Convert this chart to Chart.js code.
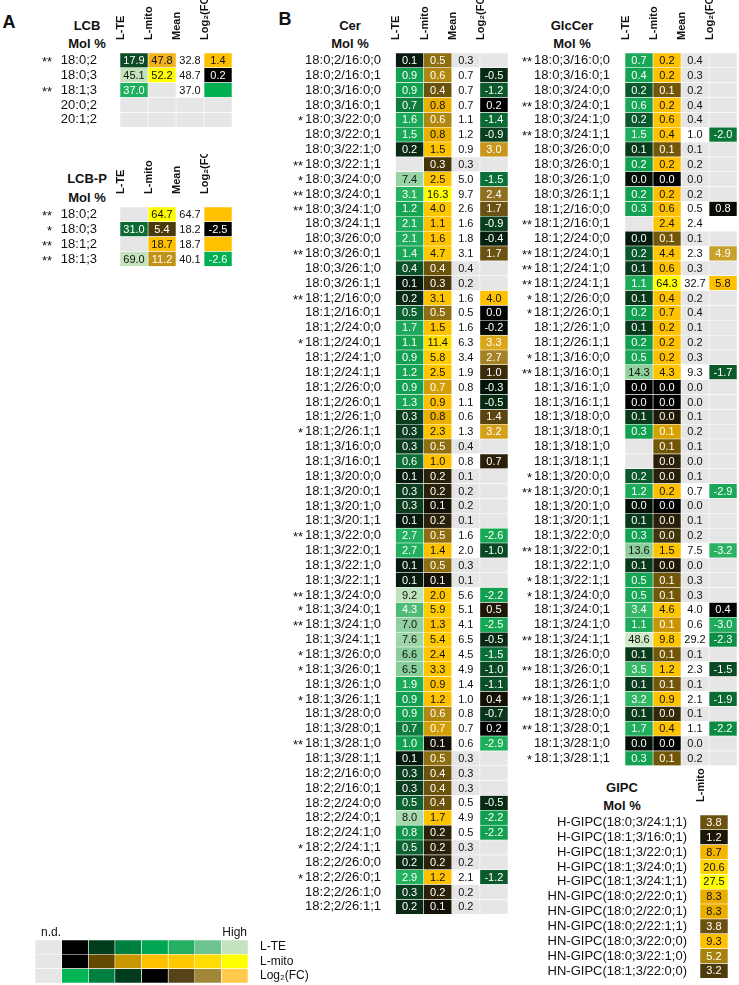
<!DOCTYPE html>
<html>
<head>
<meta charset="utf-8">
<script src="https://cdn.jsdelivr.net/npm/chart.js@4.4.1/dist/chart.umd.min.js"></script>
<style>
  body { margin: 0; background: #fff; width: 739px; height: 985px; position: relative; overflow: hidden;
         font-family: "Liberation Sans", Arial, sans-serif; color: #111; }
  canvas { position: absolute; }
  .t { position: absolute; transform: translate(-50%, -50%); font-weight: bold; font-size: 13px; line-height: 1; white-space: nowrap; }
  .p { font-size: 18px; }
</style>
</head>
<body>
<div class="t p" style="left:9px;top:22px">A</div>
<div class="t p" style="left:285px;top:19px">B</div>
<div class="t" style="left:87px;top:25px">LCB</div>
<div class="t" style="left:87px;top:43px">Mol %</div>
<div class="t" style="left:87px;top:178px">LCB-P</div>
<div class="t" style="left:87px;top:197px">Mol %</div>
<div class="t" style="left:350px;top:25px">Cer</div>
<div class="t" style="left:350px;top:43px">Mol %</div>
<div class="t" style="left:572px;top:25px">GlcCer</div>
<div class="t" style="left:572px;top:43px">Mol %</div>
<div class="t" style="left:622px;top:787px">GIPC</div>
<div class="t" style="left:622px;top:805px">Mol %</div>

<script>
// ---------- data ----------
const COLS = ['L-TE', 'L-mito', 'Mean', 'Log₂(FC)'];

// LCB
const lcbRows  = ['18:0;2', '18:0;3', '18:1;3', '20:0;2', '20:1;2'];
const lcbStars = ['**', '', '**', '', ''];
const lcbTE    = [17.9, 45.1, 37.0, null, null];
const lcbMito  = [47.8, 52.2, null, null, null];
const lcbMean  = [32.8, 48.7, 37.0, null, null];
const lcbFC    = [1.4, 0.2, -Infinity, null, null];

// LCB-P
const lcbpRows  = ['18:0;2', '18:0;3', '18:1;2', '18:1;3'];
const lcbpStars = ['**', '*', '**', '**'];
const lcbpTE    = [null, 31.0, null, 69.0];
const lcbpMito  = [64.7, 5.4, 18.7, 11.2];
const lcbpMean  = [64.7, 18.2, 18.7, 40.1];
const lcbpFC    = [Infinity, -2.5, Infinity, -2.6];

// Cer
const cerRows = [
  '18:0;2/16:0;0', '18:0;2/16:0;1', '18:0;3/16:0;0', '18:0;3/16:0;1', '18:0;3/22:0;0', '18:0;3/22:0;1',
  '18:0;3/22:1;0', '18:0;3/22:1;1', '18:0;3/24:0;0', '18:0;3/24:0;1', '18:0;3/24:1;0', '18:0;3/24:1;1',
  '18:0;3/26:0;0', '18:0;3/26:0;1', '18:0;3/26:1;0', '18:0;3/26:1;1', '18:1;2/16:0;0', '18:1;2/16:0;1',
  '18:1;2/24:0;0', '18:1;2/24:0;1', '18:1;2/24:1;0', '18:1;2/24:1;1', '18:1;2/26:0;0', '18:1;2/26:0;1',
  '18:1;2/26:1;0', '18:1;2/26:1;1', '18:1;3/16:0;0', '18:1;3/16:0;1', '18:1;3/20:0;0', '18:1;3/20:0;1',
  '18:1;3/20:1;0', '18:1;3/20:1;1', '18:1;3/22:0;0', '18:1;3/22:0;1', '18:1;3/22:1;0', '18:1;3/22:1;1',
  '18:1;3/24:0;0', '18:1;3/24:0;1', '18:1;3/24:1;0', '18:1;3/24:1;1', '18:1;3/26:0;0', '18:1;3/26:0;1',
  '18:1;3/26:1;0', '18:1;3/26:1;1', '18:1;3/28:0;0', '18:1;3/28:0;1', '18:1;3/28:1;0', '18:1;3/28:1;1',
  '18:2;2/16:0;0', '18:2;2/16:0;1', '18:2;2/24:0;0', '18:2;2/24:0;1', '18:2;2/24:1;0', '18:2;2/24:1;1',
  '18:2;2/26:0;0', '18:2;2/26:0;1', '18:2;2/26:1;0', '18:2;2/26:1;1'];
const cerStars = [
  '', '', '', '', '*', '', '', '**', '*', '**', '**', '', '', '**', '', '', '**', '', '', '*', '', '', '', '',
  '', '*', '', '', '', '', '', '', '**', '', '', '', '**', '*', '**', '', '*', '*', '', '*', '', '', '**', '',
  '', '', '', '', '', '*', '', '*', '', ''];
const cerTE = [
  0.1, 0.9, 0.9, 0.7, 1.6, 1.5, 0.2, null, 7.4, 3.1, 1.2, 2.1, 2.1, 1.4, 0.4, 0.1, 0.2, 0.5, 1.7, 1.1, 0.9, 1.2,
  0.9, 1.3, 0.3, 0.3, 0.3, 0.6, 0.1, 0.3, 0.3, 0.1, 2.7, 2.7, 0.1, 0.1, 9.2, 4.3, 7.0, 7.6, 6.6, 6.5, 1.9, 0.9,
  0.9, 0.7, 1.0, 0.1, 0.3, 0.3, 0.5, 8.0, 0.8, 0.5, 0.2, 2.9, 0.3, 0.2];
const cerMito = [
  0.5, 0.6, 0.4, 0.8, 0.6, 0.8, 1.5, 0.3, 2.5, 16.3, 4.0, 1.1, 1.6, 4.7, 0.4, 0.3, 3.1, 0.5, 1.5, 11.4, 5.8, 2.5,
  0.7, 0.9, 0.8, 2.3, 0.5, 1.0, 0.2, 0.2, 0.1, 0.2, 0.5, 1.4, 0.5, 0.1, 2.0, 5.9, 1.3, 5.4, 2.4, 3.3, 0.9, 1.2,
  0.6, 0.7, 0.1, 0.5, 0.4, 0.4, 0.4, 1.7, 0.2, 0.2, 0.2, 1.2, 0.2, 0.1];
const cerMean = [
  0.3, 0.7, 0.7, 0.7, 1.1, 1.2, 0.9, 0.3, 5.0, 9.7, 2.6, 1.6, 1.8, 3.1, 0.4, 0.2, 1.6, 0.5, 1.6, 6.3, 3.4, 1.9,
  0.8, 1.1, 0.6, 1.3, 0.4, 0.8, 0.1, 0.2, 0.2, 0.1, 1.6, 2.0, 0.3, 0.1, 5.6, 5.1, 4.1, 6.5, 4.5, 4.9, 1.4, 1.0,
  0.8, 0.7, 0.6, 0.3, 0.3, 0.3, 0.5, 4.9, 0.5, 0.3, 0.2, 2.1, 0.2, 0.2];
const cerFC = [
  null, -0.5, -1.2, 0.2, -1.4, -0.9, 3.0, null, -1.5, 2.4, 1.7, -0.9, -0.4, 1.7, null, null, 4.0, 0.0, -0.2, 3.3,
  2.7, 1.0, -0.3, -0.5, 1.4, 3.2, null, 0.7, null, null, null, null, -2.6, -1.0, null, null, -2.2, 0.5, -2.5, -0.5,
  -1.5, -1.0, -1.1, 0.4, -0.7, 0.2, -2.9, null, null, null, -0.5, -2.2, -2.2, null, null, -1.2, null, null];

// GlcCer
const glcRows = [
  '18:0;3/16:0;0', '18:0;3/16:0;1', '18:0;3/24:0;0', '18:0;3/24:0;1', '18:0;3/24:1;0', '18:0;3/24:1;1',
  '18:0;3/26:0;0', '18:0;3/26:0;1', '18:0;3/26:1;0', '18:0;3/26:1;1', '18:1;2/16:0;0', '18:1;2/16:0;1',
  '18:1;2/24:0;0', '18:1;2/24:0;1', '18:1;2/24:1;0', '18:1;2/24:1;1', '18:1;2/26:0;0', '18:1;2/26:0;1',
  '18:1;2/26:1;0', '18:1;2/26:1;1', '18:1;3/16:0;0', '18:1;3/16:0;1', '18:1;3/16:1;0', '18:1;3/16:1;1',
  '18:1;3/18:0;0', '18:1;3/18:0;1', '18:1;3/18:1;0', '18:1;3/18:1;1', '18:1;3/20:0;0', '18:1;3/20:0;1',
  '18:1;3/20:1;0', '18:1;3/20:1;1', '18:1;3/22:0;0', '18:1;3/22:0;1', '18:1;3/22:1;0', '18:1;3/22:1;1',
  '18:1;3/24:0;0', '18:1;3/24:0;1', '18:1;3/24:1;0', '18:1;3/24:1;1', '18:1;3/26:0;0', '18:1;3/26:0;1',
  '18:1;3/26:1;0', '18:1;3/26:1;1', '18:1;3/28:0;0', '18:1;3/28:0;1', '18:1;3/28:1;0', '18:1;3/28:1;1'];
const glcStars = [
  '**', '', '', '**', '', '**', '', '', '', '', '', '**', '', '**', '**', '**', '*', '*', '', '', '*', '**', '', '',
  '', '', '', '', '*', '**', '', '', '', '**', '', '*', '*', '', '', '**', '', '**', '', '**', '', '**', '', '*'];
const glcTE = [
  0.7, 0.4, 0.16, 0.6, 0.16, 1.5, 0.1, 0.23, 0.02, 0.23, 0.3, null, 0.03, 0.16, 0.1, 1.1, 0.1, 0.23, 0.1, 0.23,
  0.5, 14.3, 0.01, 0.01, 0.1, 0.3, null, null, 0.16, 1.2, 0.02, 0.1, 0.3, 13.6, 0.1, 0.5, 0.5, 3.4, 1.1, 48.6,
  0.1, 3.5, 0.1, 3.2, 0.1, 1.7, 0.02, 0.3];
const glcMito = [
  0.2, 0.2, 0.09, 0.2, 0.6, 0.4, 0.09, 0.2, 0.005, 0.2, 0.6, 2.4, 0.09, 4.4, 0.6, 64.3, 0.4, 0.7, 0.2, 0.2,
  0.2, 4.3, 0.005, 0.005, 0.02, 0.14, 0.09, 0.03, 0.03, 0.2, 0.005, 0.03, 0.045, 1.5, 0.02, 0.09, 0.09, 4.6, 0.13, 9.8,
  0.09, 1.2, 0.09, 0.9, 0.035, 0.4, 0.005, 0.09];
const glcMean = [
  0.4, 0.3, 0.2, 0.4, 0.4, 1.0, 0.1, 0.2, 0.0, 0.2, 0.5, 2.4, 0.1, 2.3, 0.3, 32.7, 0.2, 0.4, 0.1, 0.2,
  0.3, 9.3, 0.0, 0.0, 0.1, 0.2, 0.1, 0.0, 0.1, 0.7, 0.0, 0.1, 0.2, 7.5, 0.0, 0.3, 0.3, 4.0, 0.6, 29.2,
  0.1, 2.3, 0.1, 2.1, 0.1, 1.1, 0.0, 0.2];
const glcFC = [
  null, null, null, null, null, -2.0, null, null, null, null, 0.8, null, null, 4.9, null, 5.8, null, null, null, null,
  null, -1.7, null, null, null, null, null, null, null, -2.9, null, null, null, -3.2, null, null, null, 0.4, -3.0, -2.3,
  null, -1.5, null, -1.9, null, -2.2, null, null];

// GIPC
const gipcRows = [
  'H-GIPC(18:0;3/24:1;1)', 'H-GIPC(18:1;3/16:0;1)', 'H-GIPC(18:1;3/22:0;1)', 'H-GIPC(18:1;3/24:0;1)',
  'H-GIPC(18:1;3/24:1;1)', 'HN-GIPC(18:0;2/22:0;1)', 'HN-GIPC(18:0;2/22:0;1)', 'HN-GIPC(18:0;2/22:1;1)',
  'HN-GIPC(18:0;3/22:0;0)', 'HN-GIPC(18:0;3/22:1;0)', 'HN-GIPC(18:1;3/22:0;0)'];
const gipcMito = [3.8, 1.2, 8.7, 20.6, 27.5, 8.3, 8.3, 3.8, 9.3, 5.2, 3.2];

// colour key
const keyRows = ['L-TE', 'L-mito', 'Log₂(FC)'];
const keyTE   = ['#e7e6e6', '#000000', '#003d1c', '#00803e', '#00a651', '#25b061', '#6ec48e', '#c3e4bf'];
const keyMito = ['#e7e6e6', '#000000', '#644900', '#c99800', '#ffc000', '#ffc800', '#ffdd00', '#ffff00'];
const keyFC   = ['#e7e6e6', '#00b654', '#008040', '#003c1c', '#000000', '#56431a', '#a08838', '#ffca4c'];

// ---------- styling ----------
const FONT = '"Liberation Sans", Arial, sans-serif';
const ROW_H = 14.85;
const HEAD = 53;
const ND = [231, 230, 230];
const WHITE = [255, 255, 255];

// size the text so a lipid label is as wide as in the figure, whatever font is picked
const mctx = document.createElement('canvas').getContext('2d');
mctx.font = '13px ' + FONT;
const K = Math.min(1.08, Math.max(0.85, 76 / mctx.measureText('18:0;3/24:0;1').width));
const LABEL = 13 * K, CELL = 11 * K, HEADER = 11 * K;

const hex = h => [1, 3, 5].map(i => parseInt(h.substr(i, 2), 16));
const css = c => `rgb(${c.map(Math.round).join(',')})`;
const ink = c => (0.2126 * c[0] + 0.7152 * c[1] + 0.0722 * c[2]) / 255 > 0.68 ? '#111' : '#fff';

function ramp(stops, log) {
  const f = x => log ? Math.log10(Math.max(x, 1e-4)) : x;
  const pts = stops.map(([v, c]) => [f(v), hex(c)]);
  return v => {
    if (v == null) return ND;
    const x = f(v);
    if (!(x > pts[0][0])) return pts[0][1];
    for (let i = 1; i < pts.length; i++) {
      if (x <= pts[i][0]) {
        const t = (x - pts[i - 1][0]) / (pts[i][0] - pts[i - 1][0]);
        return pts[i - 1][1].map((a, k) => a + (pts[i][1][k] - a) * t);
      }
    }
    return pts[pts.length - 1][1];
  };
}

const meanBg = v => (v == null || v < 0.5) ? ND : WHITE;
const fcBg = (fn, means) => (v, r) => v == null ? ((means[r] != null && means[r] >= 0.5) ? WHITE : ND) : fn(v);

// chart.js pads the category axis for half a label; the rows must fill the whole band
const noPad = ax => { ax.paddingTop = 0; ax.paddingBottom = 0; ax.paddingLeft = 0; ax.paddingRight = 0; };

const cellText = o => ({
  id: 'cellText',
  afterDatasetsDraw(chart) {
    const ctx = chart.ctx;
    ctx.save();
    ctx.textAlign = 'center';
    ctx.textBaseline = 'middle';
    ctx.font = CELL + 'px ' + FONT;
    o.vals.forEach((vals, c) => {
      chart.getDatasetMeta(c).data.forEach((bar, r) => {
        const v = vals[r];
        if (v == null || !isFinite(v)) return;
        ctx.fillStyle = o.plain && o.plain[c] ? '#111' : ink(o.bgs[c][r]);
        ctx.fillText(v.toFixed(1), (bar.x + bar.base) / 2, bar.y + 0.5);
      });
    });
    if (o.stars) {
      ctx.textAlign = 'right';
      ctx.font = LABEL + 'px ' + FONT;
      ctx.fillStyle = '#111';
      o.stars.forEach((s, r) => {
        if (s) ctx.fillText(s, o.starX, chart.scales.y.getPixelForValue(r) + 2);
      });
    }
    ctx.restore();
  }
});

function table(o) {
  const h = HEAD + o.rows.length * ROW_H;
  const H = Math.ceil(h);
  const cv = document.createElement('canvas');
  cv.width = o.width; cv.height = H;
  Object.assign(cv.style, { left: o.left + 'px', top: o.top + 'px', width: o.width + 'px', height: H + 'px' });
  document.body.appendChild(cv);
  new Chart(cv, {
    type: 'bar',
    data: {
      labels: o.rows,
      datasets: o.vals.map((vals, c) => ({
        data: vals.map(() => 1),
        backgroundColor: o.bgs[c].map(css),
        borderColor: '#fff',
        borderWidth: 0.6,
        borderSkipped: false,
        barPercentage: 1,
        categoryPercentage: 1
      }))
    },
    options: {
      indexAxis: 'y',
      responsive: false,
      animation: false,
      layout: { padding: { left: 0, right: 0, top: 0, bottom: H - h } },
      plugins: { legend: { display: false }, tooltip: { enabled: false } },
      scales: {
        x: {
          type: 'linear', position: 'top', stacked: true, min: 0, max: o.cols.length,
          grid: { display: false }, border: { display: false },
          afterBuildTicks: ax => { ax.ticks = o.cols.map((_, i) => ({ value: i + 0.5 })); },
          afterFit: ax => { ax.height = HEAD; noPad(ax); },
          ticks: {
            autoSkip: false, minRotation: 90, maxRotation: 90, padding: 5, color: '#111',
            font: { family: FONT, size: HEADER, weight: 'bold' },
            callback: v => o.cols[Math.floor(v)]
          }
        },
        y: {
          stacked: true, grid: { display: false }, border: { display: false },
          afterFit: ax => { ax.width = o.yW; noPad(ax); },
          ticks: { autoSkip: false, padding: o.pad, color: '#111', font: { family: FONT, size: LABEL } }
        }
      }
    },
    plugins: [cellText(o)]
  });
}

// ---------- panel A ----------
{
  const te = ramp([[17.9, '#0b4a24'], [37, '#1fb05d'], [45.1, '#c5e3bb']]);
  const mi = ramp([[47.8, '#f2b21c'], [52.2, '#ffff00']]);
  const fc = ramp([[-3, '#00b050'], [0.2, '#000000'], [1.4, '#ffc000']]);
  table({
    left: 28, top: 0, width: 204, yW: 92, pad: 15, starX: 24,
    rows: lcbRows, stars: lcbStars, cols: COLS,
    vals: [lcbTE, lcbMito, lcbMean, lcbFC], plain: [false, false, true, false],
    bgs: [lcbTE.map(te), lcbMito.map(mi), lcbMean.map(v => v == null ? ND : WHITE), lcbFC.map(fcBg(fc, lcbMean))]
  });
}
{
  const te = ramp([[31, '#0c6a33'], [69, '#c5e3bb']]);
  const mi = ramp([[5.4, '#4d3a0a'], [11.2, '#c09216'], [18.7, '#ffc000'], [64.7, '#ffff00']], true);
  const fc = ramp([[-2.6, '#00b050'], [-2.5, '#000000'], [5, '#ffc000']]);
  table({
    left: 28, top: 154, width: 204, yW: 92, pad: 15, starX: 24,
    rows: lcbpRows, stars: lcbpStars, cols: COLS,
    vals: [lcbpTE, lcbpMito, lcbpMean, lcbpFC], plain: [false, false, true, false],
    bgs: [lcbpTE.map(te), lcbpMito.map(mi), lcbpMean.map(v => v == null ? ND : WHITE), lcbpFC.map(fcBg(fc, lcbpMean))]
  });
}

// ---------- panel B ----------
{
  const te = ramp([[0.1, '#081a0e'], [0.2, '#0a2a16'], [0.3, '#0b3d1f'], [0.45, '#0c5a2d'], [0.7, '#0f7c3e'],
                   [0.85, '#12a050'], [3, '#25b25f'], [4.3, '#50bb77'], [7, '#90d0a0'], [9.5, '#c4e5c0']], true);
  const mi = ramp([[0.1, '#151106'], [0.2, '#2a2208'], [0.3, '#45360a'], [0.4, '#6b530c'], [0.5, '#8e6e0e'],
                   [0.6, '#b08810'], [0.75, '#e0a800'], [0.9, '#ffc000'], [5, '#ffc800'], [11, '#ffdc00'], [16, '#ffff00']], true);
  const fc = ramp([[-2.9, '#1cb05a'], [-2.2, '#12a050'], [-1.5, '#0b7038'], [-1.2, '#0a5a2c'], [-0.9, '#0a4020'],
                   [-0.5, '#072a13'], [-0.2, '#020804'], [0.2, '#000000'], [0.5, '#1e1705'], [1.0, '#3a2c0a'],
                   [1.4, '#5a4510'], [1.7, '#6b5212'], [2.4, '#8f7020'], [2.7, '#a58224'], [3.0, '#c8961a'],
                   [3.3, '#dca61a'], [4.0, '#ffc000']]);
  table({
    left: 280, top: 0, width: 228, yW: 115.5, pad: 6.5, starX: 23,
    rows: cerRows, stars: cerStars, cols: COLS,
    vals: [cerTE, cerMito, cerMean, cerFC], plain: [false, false, true, false],
    bgs: [cerTE.map(te), cerMito.map(mi), cerMean.map(meanBg), cerFC.map(fcBg(fc, cerMean))]
  });
}
{
  const te = ramp([[0.01, '#000000'], [0.1, '#0a3a1c'], [0.16, '#0b5a2d'], [0.22, '#10a04f'], [2, '#22b05e'],
                   [4, '#3cb96b'], [14, '#8fd09b'], [50, '#d2ebcb']], true);
  const mi = ramp([[0.005, '#000000'], [0.03, '#2a2008'], [0.05, '#4a3a0a'], [0.09, '#735708'], [0.13, '#c89500'],
                   [0.17, '#ffc000'], [10, '#ffc800'], [64, '#ffff00']], true);
  const fc = ramp([[-3.2, '#2ab262'], [-2.9, '#1aa858'], [-2.2, '#0b8a42'], [-1.9, '#0a6a32'], [-1.5, '#0a4a24'],
                   [-1.0, '#052a12'], [0.4, '#000000'], [0.8, '#0a0a05'], [4.9, '#c8a02c'], [5.8, '#ffc000']]);
  table({
    left: 510, top: 0, width: 227, yW: 115, pad: 7, starX: 22,
    rows: glcRows, stars: glcStars, cols: COLS,
    vals: [glcTE, glcMito, glcMean, glcFC], plain: [false, false, true, false],
    bgs: [glcTE.map(te), glcMito.map(mi), glcMean.map(meanBg), glcFC.map(fcBg(fc, glcMean))]
  });
}
{
  const mi = ramp([[1.2, '#1c1606'], [3.2, '#4d3b0c'], [3.8, '#6b5010'], [5.2, '#a8820e'], [8.3, '#eaae00'],
                   [9.3, '#ffc000'], [20.6, '#ffd400'], [27.5, '#ffff00']], true);
  table({
    left: 540, top: 762, width: 188, yW: 160, pad: 5,
    rows: gipcRows, cols: ['L-mito'],
    vals: [gipcMito], bgs: [gipcMito.map(mi)]
  });
}

// ---------- colour key ----------
{
  const cv = document.createElement('canvas');
  cv.width = 290; cv.height = 58;
  Object.assign(cv.style, { left: '35px', top: '925px', width: '290px', height: '58px' });
  document.body.appendChild(cv);
  new Chart(cv, {
    type: 'bar',
    data: {
      labels: keyRows,
      datasets: keyTE.map((c, i) => ({
        data: keyRows.map(() => 1),
        backgroundColor: [keyTE[i], keyMito[i], keyFC[i]],
        borderColor: '#fff', borderWidth: 0.6, borderSkipped: false,
        barPercentage: 1, categoryPercentage: 1
      }))
    },
    options: {
      indexAxis: 'y', responsive: false, animation: false,
      layout: { padding: { top: 15, left: 0, right: 0, bottom: 0 } },
      plugins: { legend: { display: false }, tooltip: { enabled: false } },
      scales: {
        x: { type: 'linear', stacked: true, min: 0, max: keyTE.length, display: false },
        y: {
          stacked: true, position: 'right', grid: { display: false }, border: { display: false },
          afterFit: ax => { ax.width = 77; noPad(ax); },
          ticks: { autoSkip: false, padding: 4, color: '#111', font: { family: FONT, size: 12 * K } }
        }
      }
    },
    plugins: [{
      id: 'keyText',
      afterDatasetsDraw(chart) {
        const ctx = chart.ctx, x = chart.scales.x;
        ctx.save();
        ctx.font = 12 * K + 'px ' + FONT;
        ctx.fillStyle = '#111';
        ctx.textAlign = 'center';
        ctx.textBaseline = 'middle';
        ctx.fillText('n.d.', x.getPixelForValue(0.6), 8);
        ctx.fillText('High', x.getPixelForValue(keyTE.length - 0.5), 8);
        ctx.restore();
      }
    }]
  });
}
</script>
</body>
</html>
